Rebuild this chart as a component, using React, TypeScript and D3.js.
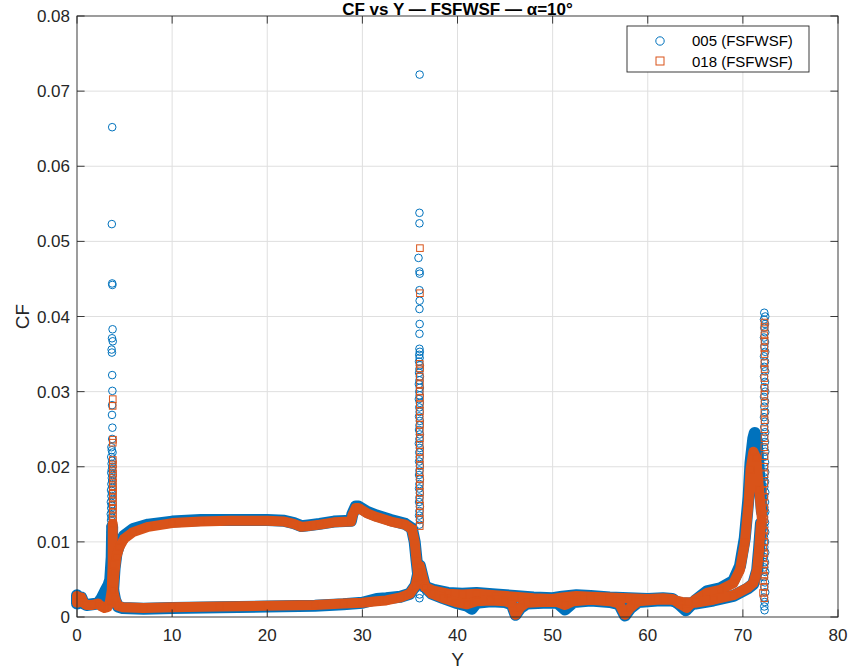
import { useEffect, useRef } from 'react'
import * as d3 from 'd3'

type Pt = [number, number]

// series names
const seriesNames = ['005 (FSFWSF)', '018 (FSFWSF)']

const xTicks = [0, 10, 20, 30, 40, 50, 60, 70, 80]
const yTicks = [0, 0.01, 0.02, 0.03, 0.04, 0.05, 0.06, 0.07, 0.08]

// ---- 005 (blue, circles): dense bands
const blueLeft: Pt[] = [[0, 0.0029], [0, 0.0018], [0.25, 0.0019], [0.45, 0.0026], [0.7, 0.0018], [1.0, 0.0016], [1.6, 0.0017], [2.2, 0.0018], [2.6, 0.0025], [3.0, 0.0035], [3.3, 0.0042], [3.5, 0.005], [3.65, 0.008], [3.7, 0.012]]
const blueUpper: Pt[] = [[3.8, 0.0036], [3.95, 0.0065], [4.15, 0.0085], [4.45, 0.0097], [4.95, 0.0108], [5.9, 0.0117], [7.5, 0.0123], [10, 0.0127], [13, 0.0129], [16, 0.0129], [20, 0.0129], [21.8, 0.0128], [22.8, 0.0125], [23.6, 0.0121], [24.3, 0.0122], [25.5, 0.0124], [27, 0.0127], [28.8, 0.0128], [28.95, 0.0137], [29.3, 0.0147], [29.6, 0.0147], [30.5, 0.014], [31.5, 0.0135], [33, 0.0129], [34.5, 0.0124], [35.2, 0.0118], [35.5, 0.01], [35.7, 0.0075], [35.9, 0.0052], [36.1, 0.0045]]
const blueLower: Pt[] = [[3.8, 0.0036], [4.0, 0.0023], [4.3, 0.0014], [4.8, 0.0012], [7, 0.0011], [10, 0.0012], [15, 0.0013], [20, 0.0014], [25, 0.0015], [28, 0.0017], [30, 0.0019], [31.5, 0.0024], [32.5, 0.0025], [34, 0.0027], [35, 0.0031], [35.6, 0.0042], [35.9, 0.006], [36.05, 0.0068], [36.3, 0.0055], [36.6, 0.004]]
const blueMidA: Pt[] = [[36.6, 0.004], [37.5, 0.0036], [39, 0.0032], [40.5, 0.0031], [42, 0.0032], [44, 0.003], [46, 0.0028], [48, 0.0026], [50, 0.0025], [51, 0.0027], [52.5, 0.0029], [54, 0.0028], [56, 0.0026], [58, 0.0025], [60, 0.0024], [61.6, 0.0025], [62.6, 0.0024], [63.4, 0.0016], [64.0, 0.0009], [65, 0.0022], [66.2, 0.0034], [67.6, 0.0038], [69, 0.0048], [69.7, 0.0068], [70.2, 0.0105], [70.6, 0.016], [70.8, 0.0205], [71.1, 0.0238], [71.25, 0.0245], [71.45, 0.0235], [71.7, 0.019], [72.0, 0.014]]
const blueMidB: Pt[] = [[36.6, 0.004], [37.3, 0.0031], [38.5, 0.0025], [39.8, 0.0019], [41, 0.0015], [41.5, 0.0011], [42, 0.0019], [43.5, 0.0021], [45, 0.002], [45.7, 0.0017], [46.1, 0.0003], [46.6, 0.0012], [47.3, 0.0018], [49, 0.0019], [50.5, 0.0019], [51.3, 0.001], [52.2, 0.002], [54, 0.0022], [56, 0.002], [57, 0.0017], [57.6, 0.0002], [58.2, 0.0012], [59, 0.002], [61, 0.0022], [62.5, 0.0022], [63.6, 0.0018], [65, 0.0018], [66.9, 0.0022], [69, 0.0028], [70.5, 0.0038], [71.1, 0.0044], [71.5, 0.0062], [71.7, 0.009], [71.9, 0.0125]]

// ---- 005 scattered points at the three spikes
const blueSpike1: Pt[] = [[3.7, 0.0652], [3.66, 0.0523], [3.7, 0.0444], [3.72, 0.0442], [3.74, 0.0383], [3.68, 0.0371], [3.76, 0.0367], [3.64, 0.0356], [3.67, 0.0352], [3.7, 0.0322], [3.72, 0.0301], [3.69, 0.0282], [3.68, 0.0269], [3.72, 0.0252], [3.7, 0.0237], [3.62, 0.0226], [3.66, 0.0222], [3.74, 0.0219], [3.6, 0.0213], [3.7, 0.0208], [3.64, 0.0204], [3.72, 0.02], [3.66, 0.0196], [3.6, 0.0192], [3.74, 0.0189], [3.66, 0.0185], [3.7, 0.0181], [3.62, 0.0177], [3.72, 0.0173], [3.58, 0.0169], [3.68, 0.0165], [3.62, 0.0161], [3.72, 0.0157], [3.56, 0.0153], [3.66, 0.0149], [3.6, 0.0145], [3.7, 0.0141], [3.55, 0.0137], [3.64, 0.0133], [3.58, 0.0129], [3.68, 0.0125], [3.54, 0.0121], [3.62, 0.0117], [3.56, 0.0113]]
const blueSpike2: Pt[] = [[36.02, 0.0722], [36.0, 0.0538], [36.0, 0.0524], [35.9, 0.0478], [36.0, 0.046], [36.03, 0.0457], [36.0, 0.0435], [36.02, 0.0421], [36.0, 0.041], [36.02, 0.039], [36.0, 0.0377], [36.0, 0.0357], [36.04, 0.0353], [35.98, 0.0349], [36.02, 0.0345], [35.96, 0.034], [36.04, 0.0335], [36.0, 0.033], [35.96, 0.0325], [36.04, 0.032], [36.0, 0.0315], [35.94, 0.031], [36.04, 0.0305], [35.98, 0.03], [36.02, 0.0295], [35.94, 0.029], [36.04, 0.0285], [35.98, 0.0279], [36.02, 0.0273], [35.96, 0.0267], [36.04, 0.0261], [36.0, 0.0255], [35.96, 0.0249], [36.04, 0.0243], [36.0, 0.0237], [35.94, 0.0231], [36.04, 0.0225], [35.98, 0.0219], [36.02, 0.0213], [35.96, 0.0207], [36.04, 0.0201], [36.0, 0.0195], [35.96, 0.0189], [36.04, 0.0183], [36.0, 0.0177], [35.96, 0.0171], [36.04, 0.0165], [36.0, 0.0159], [35.96, 0.0153], [36.04, 0.0147], [36.0, 0.0141], [35.96, 0.0135], [36.04, 0.0129], [36.0, 0.0123], [36.02, 0.003], [36.0, 0.0025]]
const blueSpike3: Pt[] = [[72.25, 0.0405], [72.35, 0.04], [72.22, 0.0396], [72.33, 0.039], [72.25, 0.0385], [72.35, 0.0379], [72.22, 0.0372], [72.33, 0.0366], [72.25, 0.036], [72.35, 0.0353], [72.22, 0.0347], [72.33, 0.034], [72.25, 0.0333], [72.35, 0.0327], [72.22, 0.032], [72.33, 0.0313], [72.25, 0.0306], [72.35, 0.03], [72.22, 0.0293], [72.33, 0.0287], [72.25, 0.028], [72.35, 0.0273], [72.22, 0.0266], [72.33, 0.026], [72.25, 0.0253], [72.35, 0.0246], [72.22, 0.024], [72.33, 0.0233], [72.25, 0.0226], [72.35, 0.022], [72.22, 0.0213], [72.33, 0.0206], [72.25, 0.02], [72.35, 0.0193], [72.22, 0.0186], [72.33, 0.018], [72.25, 0.0173], [72.35, 0.0166], [72.22, 0.016], [72.33, 0.0153], [72.25, 0.0146], [72.35, 0.014], [72.22, 0.0133], [72.33, 0.0126], [72.25, 0.012], [72.35, 0.0113], [72.22, 0.0106], [72.33, 0.01], [72.25, 0.0093], [72.35, 0.0086], [72.22, 0.008], [72.33, 0.0073], [72.25, 0.0066], [72.35, 0.006], [72.22, 0.0053], [72.33, 0.0046], [72.25, 0.004], [72.35, 0.0033], [72.22, 0.0026], [72.3, 0.002], [72.25, 0.0014], [72.28, 0.0009]]

// ---- 018 (orange, squares): dense bands
const orangeLeft: Pt[] = [[0, 0.0028], [0, 0.0019], [0.25, 0.002], [0.45, 0.0026], [0.7, 0.0019], [1.0, 0.0016], [1.6, 0.0016], [2.2, 0.0018], [2.6, 0.0014], [2.9, 0.0012], [3.2, 0.0013], [3.45, 0.002], [3.65, 0.0035], [3.75, 0.007], [3.76, 0.0124]]
const orangeUpper: Pt[] = [[3.8, 0.0036], [3.95, 0.006], [4.15, 0.008], [4.45, 0.0093], [4.95, 0.0104], [5.9, 0.0113], [7.5, 0.012], [10, 0.0125], [13, 0.0127], [16, 0.0128], [20, 0.0128], [21.8, 0.0127], [22.8, 0.0124], [23.6, 0.012], [24.3, 0.0121], [25.5, 0.0123], [27, 0.0126], [28.8, 0.0127], [28.95, 0.0135], [29.3, 0.0145], [29.6, 0.0145], [30.5, 0.0138], [31.5, 0.0133], [33, 0.0127], [34.5, 0.0123], [35.2, 0.0117], [35.5, 0.01], [35.7, 0.0075], [35.9, 0.0052], [36.1, 0.0045]]
const orangeLower: Pt[] = [[3.8, 0.0036], [4.0, 0.0024], [4.3, 0.0015], [4.8, 0.0013], [7, 0.0012], [10, 0.0013], [15, 0.0014], [20, 0.0015], [25, 0.0016], [28, 0.0018], [30, 0.0019], [31.5, 0.0021], [32.5, 0.0022], [34, 0.0026], [35, 0.0031], [35.6, 0.0042], [35.9, 0.006], [36.05, 0.0068], [36.3, 0.0055], [36.6, 0.004]]
const orangeMidA: Pt[] = [[36.6, 0.004], [37.5, 0.0035], [39, 0.0031], [40.5, 0.003], [42, 0.0031], [44, 0.0029], [46, 0.0027], [48, 0.0025], [50, 0.0024], [51, 0.0026], [52.5, 0.0028], [54, 0.0027], [56, 0.0026], [58, 0.0025], [60, 0.0024], [61.6, 0.0025], [62.6, 0.0024], [63.4, 0.0017], [64.1, 0.0012], [65, 0.0023], [66.2, 0.0032], [67.6, 0.0036], [69, 0.0045], [69.7, 0.0063], [70.2, 0.0099], [70.6, 0.0152], [70.8, 0.0196], [71.1, 0.022], [71.4, 0.0212], [71.7, 0.017], [72.0, 0.013]]
const orangeMidB: Pt[] = [[36.6, 0.004], [37.3, 0.0031], [38.5, 0.0025], [39.8, 0.002], [41, 0.0017], [42, 0.0021], [43.5, 0.0022], [45, 0.0021], [45.7, 0.0018], [46.1, 0.0003], [46.6, 0.0013], [47.3, 0.0019], [49, 0.002], [50.5, 0.002], [51.3, 0.0016], [52.2, 0.0021], [54, 0.0023], [56, 0.0021], [57, 0.0018], [57.6, 0.0003], [58.2, 0.0013], [59, 0.0021], [61, 0.0023], [62.5, 0.0023], [63.6, 0.002], [65, 0.0019], [66.9, 0.0023], [69, 0.0029], [70.5, 0.0039], [71.1, 0.0045], [71.5, 0.0063], [71.7, 0.009], [71.9, 0.0125]]

// ---- 018 scattered points at the spikes
const orangeSpike1: Pt[] = [[3.76, 0.029], [3.75, 0.0281], [3.78, 0.0236], [3.76, 0.0232], [3.77, 0.0209], [3.78, 0.0203], [3.76, 0.0197], [3.79, 0.0191], [3.77, 0.0185], [3.78, 0.0179], [3.76, 0.0174], [3.79, 0.0169], [3.77, 0.0164], [3.78, 0.0159], [3.76, 0.0154], [3.79, 0.0149], [3.77, 0.0144], [3.78, 0.0139], [3.76, 0.0134], [3.79, 0.0129], [3.77, 0.0124]]
const orangeSpike2: Pt[] = [[36.05, 0.0491], [36.05, 0.0431], [36.03, 0.0337], [36.06, 0.0331], [36.04, 0.032], [36.05, 0.031], [36.03, 0.03], [36.06, 0.0292], [36.04, 0.0283], [36.05, 0.0274], [36.03, 0.0265], [36.06, 0.0256], [36.04, 0.0247], [36.05, 0.0238], [36.03, 0.0229], [36.06, 0.022], [36.04, 0.0211], [36.05, 0.0202], [36.03, 0.0193], [36.06, 0.0184], [36.04, 0.0175], [36.05, 0.0166], [36.03, 0.0157], [36.06, 0.0148], [36.04, 0.0139], [36.05, 0.013], [36.03, 0.0121]]
const orangeSpike3: Pt[] = [[72.28, 0.0392], [72.28, 0.0386], [72.26, 0.0375], [72.28, 0.0368], [72.26, 0.0358], [72.28, 0.035], [72.26, 0.0338], [72.28, 0.033], [72.26, 0.0318], [72.28, 0.0305], [72.26, 0.0296], [72.28, 0.0285], [72.26, 0.0272], [72.28, 0.0262], [72.26, 0.025], [72.28, 0.0238], [72.26, 0.0226], [72.28, 0.0214], [72.26, 0.02], [72.28, 0.019], [72.26, 0.0178], [72.1, 0.0168], [72.26, 0.016], [72.1, 0.0152], [72.26, 0.0145], [72.1, 0.0138], [72.26, 0.013], [72.1, 0.0122], [72.26, 0.0115], [72.12, 0.0108], [72.26, 0.01], [72.12, 0.0092], [72.26, 0.0085], [72.12, 0.0078], [72.26, 0.007], [72.12, 0.0062], [72.26, 0.0055], [72.12, 0.0048], [72.26, 0.004], [72.12, 0.0032], [72.26, 0.0025]]

const blueBands = [blueLeft, blueUpper, blueLower, blueMidA, blueMidB]
const blueScatter = [blueSpike1, blueSpike2, blueSpike3]
const orangeBands = [orangeLeft, orangeUpper, orangeLower, orangeMidA, orangeMidB]
const orangeScatter = [orangeSpike1, orangeSpike2, orangeSpike3]

const BLUE = '#0072BD'
const ORANGE = '#D95319'
const AXIS = '#262626'
const FONT = 'Liberation Sans, Arial, Helvetica, sans-serif'

export default function App() {
  const svgRef = useRef<SVGSVGElement>(null)
  const width = 863
  const height = 670

  useEffect(() => {
    if (!svgRef.current) return
    const svg = d3.select(svgRef.current)
    svg.selectAll('*').remove()

    const margin = { top: 16, right: 25, bottom: 53, left: 77 }
    const x = d3.scaleLinear().domain([0, 80]).range([margin.left, width - margin.right])
    const y = d3.scaleLinear().domain([0, 0.08]).range([height - margin.bottom, margin.top])
    const [x0, x1] = x.range()
    const [y0, y1] = y.range()
    const tickLen = 7.6

    svg.append('rect').attr('width', width).attr('height', height).attr('fill', 'white')

    // grid
    const grid = svg.append('g').attr('stroke', '#dfdfdf').attr('stroke-width', 1)
    xTicks.slice(1, -1).forEach(t => {
      grid.append('line').attr('x1', x(t)).attr('x2', x(t)).attr('y1', y0).attr('y2', y1)
    })
    yTicks.slice(1, -1).forEach(t => {
      grid.append('line').attr('x1', x0).attr('x2', x1).attr('y1', y(t)).attr('y2', y(t))
    })

    // thick bands formed by the dense markers
    const line = d3.line<Pt>().x(d => x(d[0])).y(d => y(d[1]))
    const drawSeries = (bands: Pt[][], scatter: Pt[][], color: string, bandW: number, shape: 'circle' | 'square') => {
      const g = svg.append('g')
      bands.forEach(b => {
        g.append('path').attr('d', line(b))
          .attr('fill', 'none').attr('stroke', color).attr('stroke-width', bandW)
          .attr('stroke-linejoin', 'round').attr('stroke-linecap', 'round')
      })
      const pts = [...bands.flat(), ...scatter.flat()]
      if (shape === 'circle') {
        g.selectAll('circle.m').data(pts).enter().append('circle')
          .attr('class', 'm')
          .attr('cx', d => x(d[0])).attr('cy', d => y(d[1])).attr('r', 3.8)
          .attr('fill', 'none').attr('stroke', color).attr('stroke-width', 1)
      } else {
        g.selectAll('rect.m').data(pts).enter().append('rect')
          .attr('class', 'm')
          .attr('x', d => x(d[0]) - 3.3).attr('y', d => y(d[1]) - 3.3)
          .attr('width', 6.6).attr('height', 6.6)
          .attr('fill', 'none').attr('stroke', color).attr('stroke-width', 1)
      }
    }
    drawSeries(blueBands, blueScatter, BLUE, 12, 'circle')
    drawSeries(orangeBands, orangeScatter, ORANGE, 10, 'square')

    // box + ticks
    const ax = svg.append('g').attr('stroke', AXIS).attr('stroke-width', 0.9)
    ax.append('rect').attr('x', x0).attr('y', y1).attr('width', x1 - x0).attr('height', y0 - y1).attr('fill', 'none')
    xTicks.forEach(t => {
      ax.append('line').attr('x1', x(t)).attr('x2', x(t)).attr('y1', y0).attr('y2', y0 - tickLen)
      ax.append('line').attr('x1', x(t)).attr('x2', x(t)).attr('y1', y1).attr('y2', y1 + tickLen)
    })
    yTicks.forEach(t => {
      ax.append('line').attr('x1', x0).attr('x2', x0 + tickLen).attr('y1', y(t)).attr('y2', y(t))
      ax.append('line').attr('x1', x1).attr('x2', x1 - tickLen).attr('y1', y(t)).attr('y2', y(t))
    })

    // tick labels
    const labels = svg.append('g').attr('font-family', FONT).attr('font-size', 17).attr('fill', AXIS)
    xTicks.forEach(t => {
      labels.append('text').attr('x', x(t)).attr('y', y0 + 24).attr('text-anchor', 'middle').text(String(t))
    })
    yTicks.forEach(t => {
      labels.append('text').attr('x', x0 - 7).attr('y', y(t) + 6).attr('text-anchor', 'end').text(t === 0 ? '0' : t.toFixed(2))
    })

    // axis titles
    svg.append('text').attr('x', (x0 + x1) / 2).attr('y', 666).attr('text-anchor', 'middle')
      .attr('font-family', FONT).attr('font-size', 19).attr('fill', AXIS).text('Y')
    svg.append('text').attr('transform', `translate(29,${(y0 + y1) / 2}) rotate(-90)`).attr('text-anchor', 'middle')
      .attr('font-family', FONT).attr('font-size', 19).attr('fill', AXIS).text('CF')
    // title sits in the thin strip above the box
    svg.append('text').attr('x', (x0 + x1) / 2).attr('y', 15).attr('text-anchor', 'middle')
      .attr('font-family', FONT).attr('font-size', 17).attr('font-weight', 'bold').attr('fill', '#000')
      .text('CF vs Y — FSFWSF — α=10°')

    // legend
    const lg = svg.append('g')
    lg.append('rect').attr('x', 627).attr('y', 26).attr('width', 182).attr('height', 46)
      .attr('fill', 'white').attr('stroke', AXIS).attr('stroke-width', 0.9)
    lg.append('circle').attr('cx', 660).attr('cy', 41).attr('r', 4.2)
      .attr('fill', 'none').attr('stroke', BLUE).attr('stroke-width', 1)
    lg.append('rect').attr('x', 656).attr('y', 57).attr('width', 8).attr('height', 8)
      .attr('fill', 'none').attr('stroke', ORANGE).attr('stroke-width', 1)
    seriesNames.forEach((n, i) => {
      lg.append('text').attr('x', 692).attr('y', 41 + i * 20.5 + 5)
        .attr('font-family', FONT).attr('font-size', 15).attr('fill', '#000').text(n)
    })
  }, [])

  return (
    <svg ref={svgRef} width={width} height={height}
      style={{ position: 'absolute', left: 0, top: 0, display: 'block' }} />
  )
}
